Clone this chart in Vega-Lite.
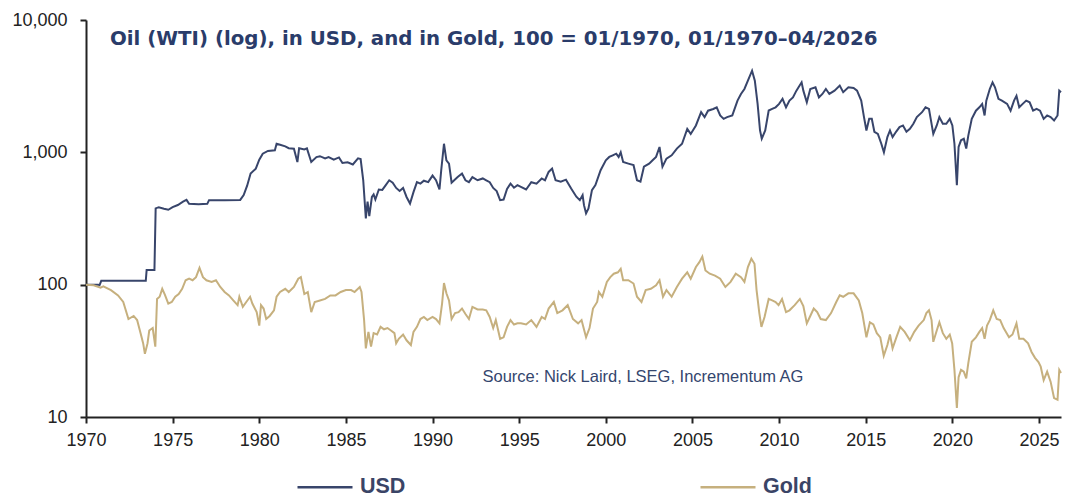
{
  "$schema": "https://vega.github.io/schema/vega-lite/v6.json",
  "width": 975,
  "height": 397,
  "autosize": {"type": "none"},
  "padding": {"left": 86, "top": 20, "right": 29, "bottom": 86},
  "background": "white",
  "config": {"view": {"stroke": null}, "font": "Liberation Sans"},
  "title": {
    "text": "Oil (WTI) (log), in USD, and in Gold, 100 = 01/1970, 01/1970–04/2026",
    "anchor": "start",
    "frame": "group",
    "font": "DejaVu Sans",
    "fontSize": 19.8,
    "fontWeight": "bold",
    "color": "#2a3c6a",
    "baseline": "middle",
    "offset": 0,
    "dx": 24,
    "dy": 48
  },
  "layer": [
    {
      "data": {"values": [
        {"year":1970.0,"series":"USD","value":100},{"year":1970.7,"series":"USD","value":100},{"year":1970.78,"series":"USD","value":99},{"year":1970.88,"series":"USD","value":107},{"year":1973.45,"series":"USD","value":107},{"year":1973.5,"series":"USD","value":129},{"year":1973.95,"series":"USD","value":129},{"year":1974.02,"series":"USD","value":377},{"year":1974.2,"series":"USD","value":385},{"year":1974.5,"series":"USD","value":375},{"year":1974.75,"series":"USD","value":368},{"year":1975.0,"series":"USD","value":385},{"year":1975.3,"series":"USD","value":400},{"year":1975.6,"series":"USD","value":424},{"year":1975.8,"series":"USD","value":437},{"year":1975.95,"series":"USD","value":408},{"year":1976.5,"series":"USD","value":405},{"year":1977.0,"series":"USD","value":408},{"year":1977.1,"series":"USD","value":435},{"year":1978.0,"series":"USD","value":435},{"year":1978.9,"series":"USD","value":437},{"year":1979.1,"series":"USD","value":475},{"year":1979.3,"series":"USD","value":560},{"year":1979.5,"series":"USD","value":692},{"year":1979.8,"series":"USD","value":753},{"year":1980.0,"series":"USD","value":880},{"year":1980.2,"series":"USD","value":977},{"year":1980.5,"series":"USD","value":1024},{"year":1980.9,"series":"USD","value":1035},{"year":1981.0,"series":"USD","value":1161},{"year":1981.2,"series":"USD","value":1140},{"year":1981.5,"series":"USD","value":1110},{"year":1981.7,"series":"USD","value":1075},{"year":1982.0,"series":"USD","value":1065},{"year":1982.2,"series":"USD","value":845},{"year":1982.3,"series":"USD","value":1075},{"year":1982.6,"series":"USD","value":1050},{"year":1982.75,"series":"USD","value":1070},{"year":1983.0,"series":"USD","value":845},{"year":1983.3,"series":"USD","value":920},{"year":1983.5,"series":"USD","value":935},{"year":1983.8,"series":"USD","value":900},{"year":1984.0,"series":"USD","value":920},{"year":1984.3,"series":"USD","value":880},{"year":1984.6,"series":"USD","value":915},{"year":1984.8,"series":"USD","value":830},{"year":1985.1,"series":"USD","value":840},{"year":1985.4,"series":"USD","value":810},{"year":1985.7,"series":"USD","value":900},{"year":1985.85,"series":"USD","value":890},{"year":1986.0,"series":"USD","value":615},{"year":1986.15,"series":"USD","value":317},{"year":1986.25,"series":"USD","value":424},{"year":1986.35,"series":"USD","value":330},{"year":1986.5,"series":"USD","value":460},{"year":1986.6,"series":"USD","value":480},{"year":1986.7,"series":"USD","value":440},{"year":1986.9,"series":"USD","value":524},{"year":1987.1,"series":"USD","value":520},{"year":1987.3,"series":"USD","value":565},{"year":1987.5,"series":"USD","value":615},{"year":1987.7,"series":"USD","value":590},{"year":1987.9,"series":"USD","value":538},{"year":1988.1,"series":"USD","value":510},{"year":1988.3,"series":"USD","value":538},{"year":1988.5,"series":"USD","value":460},{"year":1988.7,"series":"USD","value":410},{"year":1988.9,"series":"USD","value":500},{"year":1989.1,"series":"USD","value":595},{"year":1989.3,"series":"USD","value":580},{"year":1989.5,"series":"USD","value":610},{"year":1989.75,"series":"USD","value":595},{"year":1990.0,"series":"USD","value":667},{"year":1990.2,"series":"USD","value":615},{"year":1990.4,"series":"USD","value":524},{"year":1990.5,"series":"USD","value":730},{"year":1990.66,"series":"USD","value":1161},{"year":1990.8,"series":"USD","value":870},{"year":1990.95,"series":"USD","value":822},{"year":1991.1,"series":"USD","value":590},{"year":1991.25,"series":"USD","value":615},{"year":1991.45,"series":"USD","value":650},{"year":1991.7,"series":"USD","value":692},{"year":1991.9,"series":"USD","value":615},{"year":1992.1,"series":"USD","value":595},{"year":1992.3,"series":"USD","value":650},{"year":1992.6,"series":"USD","value":615},{"year":1992.9,"series":"USD","value":635},{"year":1993.1,"series":"USD","value":615},{"year":1993.3,"series":"USD","value":595},{"year":1993.5,"series":"USD","value":538},{"year":1993.7,"series":"USD","value":510},{"year":1993.9,"series":"USD","value":435},{"year":1994.1,"series":"USD","value":440},{"year":1994.3,"series":"USD","value":530},{"year":1994.5,"series":"USD","value":580},{"year":1994.7,"series":"USD","value":540},{"year":1994.9,"series":"USD","value":565},{"year":1995.1,"series":"USD","value":548},{"year":1995.4,"series":"USD","value":524},{"year":1995.7,"series":"USD","value":595},{"year":1996.0,"series":"USD","value":580},{"year":1996.3,"series":"USD","value":635},{"year":1996.49,"series":"USD","value":615},{"year":1996.7,"series":"USD","value":711},{"year":1996.9,"series":"USD","value":753},{"year":1997.1,"series":"USD","value":615},{"year":1997.4,"series":"USD","value":600},{"year":1997.7,"series":"USD","value":622},{"year":1998.0,"series":"USD","value":533},{"year":1998.3,"series":"USD","value":462},{"year":1998.5,"series":"USD","value":435},{"year":1998.66,"series":"USD","value":475},{"year":1998.74,"series":"USD","value":399},{"year":1998.86,"series":"USD","value":346},{"year":1999.0,"series":"USD","value":377},{"year":1999.2,"series":"USD","value":518},{"year":1999.4,"series":"USD","value":565},{"year":1999.7,"series":"USD","value":733},{"year":2000.0,"series":"USD","value":871},{"year":2000.2,"series":"USD","value":923},{"year":2000.4,"series":"USD","value":949},{"year":2000.6,"series":"USD","value":977},{"year":2000.74,"series":"USD","value":923},{"year":2000.86,"series":"USD","value":1000},{"year":2001.0,"series":"USD","value":845},{"year":2001.3,"series":"USD","value":822},{"year":2001.6,"series":"USD","value":800},{"year":2001.8,"series":"USD","value":615},{"year":2002.0,"series":"USD","value":600},{"year":2002.2,"series":"USD","value":778},{"year":2002.5,"series":"USD","value":822},{"year":2002.7,"series":"USD","value":871},{"year":2002.9,"series":"USD","value":923},{"year":2003.1,"series":"USD","value":1097},{"year":2003.27,"series":"USD","value":778},{"year":2003.5,"series":"USD","value":896},{"year":2003.8,"series":"USD","value":949},{"year":2004.1,"series":"USD","value":1067},{"year":2004.4,"series":"USD","value":1161},{"year":2004.7,"series":"USD","value":1505},{"year":2004.9,"series":"USD","value":1378},{"year":2005.2,"series":"USD","value":1596},{"year":2005.5,"series":"USD","value":2010},{"year":2005.7,"series":"USD","value":1845},{"year":2005.9,"series":"USD","value":2064},{"year":2006.2,"series":"USD","value":2127},{"year":2006.4,"series":"USD","value":2189},{"year":2006.6,"series":"USD","value":1900},{"year":2006.8,"series":"USD","value":1790},{"year":2007.0,"series":"USD","value":1845},{"year":2007.3,"series":"USD","value":1900},{"year":2007.6,"series":"USD","value":2459},{"year":2007.8,"series":"USD","value":2761},{"year":2008.0,"series":"USD","value":3012},{"year":2008.2,"series":"USD","value":3479},{"year":2008.44,"series":"USD","value":4140},{"year":2008.6,"series":"USD","value":3479},{"year":2008.76,"series":"USD","value":2323},{"year":2008.9,"series":"USD","value":1463},{"year":2009.0,"series":"USD","value":1268},{"year":2009.2,"series":"USD","value":1463},{"year":2009.4,"series":"USD","value":2070},{"year":2009.6,"series":"USD","value":2127},{"year":2009.8,"series":"USD","value":2189},{"year":2010.0,"series":"USD","value":2323},{"year":2010.2,"series":"USD","value":2540},{"year":2010.4,"series":"USD","value":2189},{"year":2010.6,"series":"USD","value":2459},{"year":2010.8,"series":"USD","value":2600},{"year":2011.0,"series":"USD","value":2926},{"year":2011.3,"series":"USD","value":3380},{"year":2011.4,"series":"USD","value":2926},{"year":2011.6,"series":"USD","value":2390},{"year":2011.8,"series":"USD","value":3012},{"year":2012.1,"series":"USD","value":3100},{"year":2012.3,"series":"USD","value":2600},{"year":2012.5,"series":"USD","value":2761},{"year":2012.7,"series":"USD","value":3012},{"year":2012.9,"series":"USD","value":2761},{"year":2013.2,"series":"USD","value":2926},{"year":2013.5,"series":"USD","value":3193},{"year":2013.7,"series":"USD","value":2850},{"year":2014.0,"series":"USD","value":3100},{"year":2014.3,"series":"USD","value":3060},{"year":2014.5,"series":"USD","value":2926},{"year":2014.74,"series":"USD","value":2459},{"year":2014.9,"series":"USD","value":1845},{"year":2015.04,"series":"USD","value":1463},{"year":2015.2,"series":"USD","value":1790},{"year":2015.35,"series":"USD","value":1790},{"year":2015.5,"series":"USD","value":1430},{"year":2015.7,"series":"USD","value":1378},{"year":2015.9,"series":"USD","value":1161},{"year":2016.05,"series":"USD","value":1000},{"year":2016.25,"series":"USD","value":1303},{"year":2016.4,"series":"USD","value":1463},{"year":2016.55,"series":"USD","value":1303},{"year":2016.75,"series":"USD","value":1430},{"year":2016.95,"series":"USD","value":1550},{"year":2017.15,"series":"USD","value":1596},{"year":2017.35,"series":"USD","value":1430},{"year":2017.55,"series":"USD","value":1505},{"year":2017.75,"series":"USD","value":1645},{"year":2017.95,"series":"USD","value":1845},{"year":2018.25,"series":"USD","value":2010},{"year":2018.45,"series":"USD","value":2189},{"year":2018.65,"series":"USD","value":2127},{"year":2018.75,"series":"USD","value":1790},{"year":2018.9,"series":"USD","value":1378},{"year":2019.1,"series":"USD","value":1596},{"year":2019.25,"series":"USD","value":1845},{"year":2019.45,"series":"USD","value":1645},{"year":2019.65,"series":"USD","value":1645},{"year":2019.85,"series":"USD","value":1790},{"year":2020.0,"series":"USD","value":1596},{"year":2020.12,"series":"USD","value":1161},{"year":2020.26,"series":"USD","value":565},{"year":2020.36,"series":"USD","value":1097},{"year":2020.5,"series":"USD","value":1233},{"year":2020.66,"series":"USD","value":1268},{"year":2020.8,"series":"USD","value":1067},{"year":2020.92,"series":"USD","value":1339},{"year":2021.12,"series":"USD","value":1790},{"year":2021.36,"series":"USD","value":2064},{"year":2021.56,"series":"USD","value":2189},{"year":2021.72,"series":"USD","value":2323},{"year":2021.86,"series":"USD","value":1900},{"year":2021.96,"series":"USD","value":2459},{"year":2022.16,"series":"USD","value":3012},{"year":2022.32,"series":"USD","value":3380},{"year":2022.46,"series":"USD","value":3100},{"year":2022.66,"series":"USD","value":2540},{"year":2022.86,"series":"USD","value":2459},{"year":2023.16,"series":"USD","value":2323},{"year":2023.36,"series":"USD","value":2064},{"year":2023.56,"series":"USD","value":2459},{"year":2023.7,"series":"USD","value":2670},{"year":2023.86,"series":"USD","value":2189},{"year":2024.06,"series":"USD","value":2323},{"year":2024.26,"series":"USD","value":2459},{"year":2024.46,"series":"USD","value":2390},{"year":2024.66,"series":"USD","value":2064},{"year":2024.86,"series":"USD","value":2127},{"year":2025.06,"series":"USD","value":2064},{"year":2025.27,"series":"USD","value":1790},{"year":2025.47,"series":"USD","value":1900},{"year":2025.67,"series":"USD","value":1845},{"year":2025.87,"series":"USD","value":1740},{"year":2026.07,"series":"USD","value":1900},{"year":2026.17,"series":"USD","value":2926},{"year":2026.27,"series":"USD","value":2850},
        {"year":1970.0,"series":"Gold","value":100},{"year":1970.44,"series":"Gold","value":99},{"year":1970.84,"series":"Gold","value":95},{"year":1971.0,"series":"Gold","value":97},{"year":1971.44,"series":"Gold","value":91},{"year":1971.85,"series":"Gold","value":83},{"year":1972.15,"series":"Gold","value":74},{"year":1972.45,"series":"Gold","value":55},{"year":1972.75,"series":"Gold","value":58},{"year":1972.95,"series":"Gold","value":54},{"year":1973.15,"series":"Gold","value":43},{"year":1973.3,"series":"Gold","value":36},{"year":1973.4,"series":"Gold","value":30},{"year":1973.55,"series":"Gold","value":36},{"year":1973.65,"series":"Gold","value":45},{"year":1973.85,"series":"Gold","value":47},{"year":1974.0,"series":"Gold","value":34},{"year":1974.1,"series":"Gold","value":78},{"year":1974.25,"series":"Gold","value":81},{"year":1974.4,"series":"Gold","value":93},{"year":1974.55,"series":"Gold","value":84},{"year":1974.75,"series":"Gold","value":72},{"year":1974.95,"series":"Gold","value":74},{"year":1975.15,"series":"Gold","value":81},{"year":1975.35,"series":"Gold","value":85},{"year":1975.55,"series":"Gold","value":93},{"year":1975.75,"series":"Gold","value":108},{"year":1975.95,"series":"Gold","value":111},{"year":1976.15,"series":"Gold","value":108},{"year":1976.35,"series":"Gold","value":114},{"year":1976.55,"series":"Gold","value":134},{"year":1976.75,"series":"Gold","value":114},{"year":1976.95,"series":"Gold","value":108},{"year":1977.25,"series":"Gold","value":105},{"year":1977.5,"series":"Gold","value":108},{"year":1977.75,"series":"Gold","value":96},{"year":1978.0,"series":"Gold","value":88},{"year":1978.25,"series":"Gold","value":83},{"year":1978.5,"series":"Gold","value":76},{"year":1978.75,"series":"Gold","value":70},{"year":1978.85,"series":"Gold","value":81},{"year":1979.05,"series":"Gold","value":68},{"year":1979.25,"series":"Gold","value":74},{"year":1979.47,"series":"Gold","value":81},{"year":1979.6,"series":"Gold","value":72},{"year":1979.85,"series":"Gold","value":62},{"year":1980.0,"series":"Gold","value":49},{"year":1980.1,"series":"Gold","value":70},{"year":1980.25,"series":"Gold","value":66},{"year":1980.4,"series":"Gold","value":55},{"year":1980.6,"series":"Gold","value":58},{"year":1980.85,"series":"Gold","value":64},{"year":1981.0,"series":"Gold","value":81},{"year":1981.2,"series":"Gold","value":88},{"year":1981.5,"series":"Gold","value":93},{"year":1981.7,"series":"Gold","value":88},{"year":1982.0,"series":"Gold","value":96},{"year":1982.25,"series":"Gold","value":111},{"year":1982.4,"series":"Gold","value":114},{"year":1982.6,"series":"Gold","value":85},{"year":1982.8,"series":"Gold","value":88},{"year":1983.0,"series":"Gold","value":62},{"year":1983.2,"series":"Gold","value":74},{"year":1983.5,"series":"Gold","value":76},{"year":1983.8,"series":"Gold","value":78},{"year":1984.1,"series":"Gold","value":83},{"year":1984.4,"series":"Gold","value":83},{"year":1984.7,"series":"Gold","value":88},{"year":1985.0,"series":"Gold","value":91},{"year":1985.3,"series":"Gold","value":91},{"year":1985.5,"series":"Gold","value":88},{"year":1985.8,"series":"Gold","value":96},{"year":1985.9,"series":"Gold","value":88},{"year":1986.05,"series":"Gold","value":54},{"year":1986.15,"series":"Gold","value":33},{"year":1986.3,"series":"Gold","value":44},{"year":1986.45,"series":"Gold","value":34},{"year":1986.6,"series":"Gold","value":43},{"year":1986.8,"series":"Gold","value":42},{"year":1987.0,"series":"Gold","value":48},{"year":1987.2,"series":"Gold","value":46},{"year":1987.4,"series":"Gold","value":47},{"year":1987.6,"series":"Gold","value":45},{"year":1987.8,"series":"Gold","value":43},{"year":1987.9,"series":"Gold","value":36},{"year":1988.05,"series":"Gold","value":39},{"year":1988.3,"series":"Gold","value":42},{"year":1988.5,"series":"Gold","value":38},{"year":1988.75,"series":"Gold","value":35},{"year":1988.9,"series":"Gold","value":44},{"year":1989.1,"series":"Gold","value":48},{"year":1989.3,"series":"Gold","value":55},{"year":1989.5,"series":"Gold","value":57},{"year":1989.7,"series":"Gold","value":54},{"year":1990.0,"series":"Gold","value":57},{"year":1990.2,"series":"Gold","value":55},{"year":1990.4,"series":"Gold","value":51},{"year":1990.55,"series":"Gold","value":72},{"year":1990.66,"series":"Gold","value":103},{"year":1990.8,"series":"Gold","value":86},{"year":1990.95,"series":"Gold","value":76},{"year":1991.1,"series":"Gold","value":55},{"year":1991.3,"series":"Gold","value":61},{"year":1991.5,"series":"Gold","value":62},{"year":1991.7,"series":"Gold","value":66},{"year":1991.9,"series":"Gold","value":60},{"year":1992.1,"series":"Gold","value":55},{"year":1992.3,"series":"Gold","value":68},{"year":1992.6,"series":"Gold","value":65},{"year":1992.9,"series":"Gold","value":65},{"year":1993.1,"series":"Gold","value":64},{"year":1993.3,"series":"Gold","value":57},{"year":1993.5,"series":"Gold","value":47},{"year":1993.65,"series":"Gold","value":54},{"year":1993.9,"series":"Gold","value":39},{"year":1994.1,"series":"Gold","value":40},{"year":1994.3,"series":"Gold","value":48},{"year":1994.5,"series":"Gold","value":54},{"year":1994.7,"series":"Gold","value":50},{"year":1994.9,"series":"Gold","value":51},{"year":1995.1,"series":"Gold","value":51},{"year":1995.4,"series":"Gold","value":50},{"year":1995.7,"series":"Gold","value":54},{"year":1996.0,"series":"Gold","value":48},{"year":1996.3,"series":"Gold","value":57},{"year":1996.49,"series":"Gold","value":55},{"year":1996.7,"series":"Gold","value":66},{"year":1997.0,"series":"Gold","value":74},{"year":1997.2,"series":"Gold","value":61},{"year":1997.5,"series":"Gold","value":64},{"year":1997.8,"series":"Gold","value":70},{"year":1998.1,"series":"Gold","value":55},{"year":1998.4,"series":"Gold","value":51},{"year":1998.6,"series":"Gold","value":54},{"year":1998.7,"series":"Gold","value":48},{"year":1998.86,"series":"Gold","value":40},{"year":1999.06,"series":"Gold","value":47},{"year":1999.26,"series":"Gold","value":66},{"year":1999.5,"series":"Gold","value":74},{"year":1999.6,"series":"Gold","value":88},{"year":1999.8,"series":"Gold","value":81},{"year":2000.06,"series":"Gold","value":105},{"year":2000.26,"series":"Gold","value":114},{"year":2000.46,"series":"Gold","value":121},{"year":2000.7,"series":"Gold","value":124},{"year":2000.86,"series":"Gold","value":132},{"year":2001.0,"series":"Gold","value":108},{"year":2001.3,"series":"Gold","value":108},{"year":2001.6,"series":"Gold","value":102},{"year":2001.8,"series":"Gold","value":81},{"year":2002.06,"series":"Gold","value":74},{"year":2002.3,"series":"Gold","value":91},{"year":2002.6,"series":"Gold","value":93},{"year":2002.9,"series":"Gold","value":99},{"year":2003.1,"series":"Gold","value":108},{"year":2003.3,"series":"Gold","value":81},{"year":2003.5,"series":"Gold","value":91},{"year":2003.8,"series":"Gold","value":81},{"year":2004.1,"series":"Gold","value":96},{"year":2004.4,"series":"Gold","value":111},{"year":2004.7,"series":"Gold","value":124},{"year":2004.9,"series":"Gold","value":111},{"year":2005.2,"series":"Gold","value":136},{"year":2005.4,"series":"Gold","value":148},{"year":2005.57,"series":"Gold","value":163},{"year":2005.75,"series":"Gold","value":128},{"year":2006.0,"series":"Gold","value":121},{"year":2006.3,"series":"Gold","value":117},{"year":2006.6,"series":"Gold","value":111},{"year":2006.9,"series":"Gold","value":96},{"year":2007.2,"series":"Gold","value":105},{"year":2007.5,"series":"Gold","value":121},{"year":2007.8,"series":"Gold","value":114},{"year":2008.0,"series":"Gold","value":105},{"year":2008.2,"series":"Gold","value":136},{"year":2008.4,"series":"Gold","value":157},{"year":2008.58,"series":"Gold","value":144},{"year":2008.7,"series":"Gold","value":91},{"year":2008.86,"series":"Gold","value":61},{"year":2008.98,"series":"Gold","value":48},{"year":2009.16,"series":"Gold","value":57},{"year":2009.4,"series":"Gold","value":78},{"year":2009.6,"series":"Gold","value":76},{"year":2009.8,"series":"Gold","value":74},{"year":2009.97,"series":"Gold","value":70},{"year":2010.17,"series":"Gold","value":78},{"year":2010.4,"series":"Gold","value":62},{"year":2010.6,"series":"Gold","value":64},{"year":2010.9,"series":"Gold","value":70},{"year":2011.2,"series":"Gold","value":78},{"year":2011.4,"series":"Gold","value":69},{"year":2011.6,"series":"Gold","value":51},{"year":2011.8,"series":"Gold","value":58},{"year":2012.0,"series":"Gold","value":66},{"year":2012.2,"series":"Gold","value":62},{"year":2012.4,"series":"Gold","value":55},{"year":2012.7,"series":"Gold","value":54},{"year":2013.0,"series":"Gold","value":61},{"year":2013.3,"series":"Gold","value":74},{"year":2013.5,"series":"Gold","value":83},{"year":2013.7,"series":"Gold","value":81},{"year":2014.0,"series":"Gold","value":86},{"year":2014.3,"series":"Gold","value":86},{"year":2014.6,"series":"Gold","value":76},{"year":2014.8,"series":"Gold","value":61},{"year":2015.04,"series":"Gold","value":40},{"year":2015.24,"series":"Gold","value":52},{"year":2015.44,"series":"Gold","value":50},{"year":2015.64,"series":"Gold","value":43},{"year":2015.84,"series":"Gold","value":40},{"year":2016.04,"series":"Gold","value":29},{"year":2016.25,"series":"Gold","value":35},{"year":2016.4,"series":"Gold","value":42},{"year":2016.55,"series":"Gold","value":33},{"year":2016.77,"series":"Gold","value":40},{"year":2016.99,"series":"Gold","value":48},{"year":2017.25,"series":"Gold","value":44},{"year":2017.55,"series":"Gold","value":38},{"year":2017.8,"series":"Gold","value":44},{"year":2018.05,"series":"Gold","value":49},{"year":2018.35,"series":"Gold","value":54},{"year":2018.5,"series":"Gold","value":61},{"year":2018.65,"series":"Gold","value":64},{"year":2018.8,"series":"Gold","value":54},{"year":2018.9,"series":"Gold","value":37},{"year":2019.1,"series":"Gold","value":45},{"year":2019.25,"series":"Gold","value":52},{"year":2019.45,"series":"Gold","value":43},{"year":2019.65,"series":"Gold","value":39},{"year":2019.85,"series":"Gold","value":42},{"year":2019.99,"series":"Gold","value":36},{"year":2020.12,"series":"Gold","value":22.7},{"year":2020.26,"series":"Gold","value":11.7},{"year":2020.36,"series":"Gold","value":20},{"year":2020.5,"series":"Gold","value":22.7},{"year":2020.66,"series":"Gold","value":22},{"year":2020.8,"series":"Gold","value":19.6},{"year":2020.92,"series":"Gold","value":25.5},{"year":2021.12,"series":"Gold","value":37},{"year":2021.36,"series":"Gold","value":40},{"year":2021.56,"series":"Gold","value":44},{"year":2021.72,"series":"Gold","value":47},{"year":2021.86,"series":"Gold","value":39},{"year":2022.0,"series":"Gold","value":49},{"year":2022.16,"series":"Gold","value":54},{"year":2022.36,"series":"Gold","value":64},{"year":2022.56,"series":"Gold","value":55},{"year":2022.76,"series":"Gold","value":54},{"year":2022.96,"series":"Gold","value":47},{"year":2023.27,"series":"Gold","value":40},{"year":2023.47,"series":"Gold","value":42},{"year":2023.7,"series":"Gold","value":51},{"year":2023.86,"series":"Gold","value":39},{"year":2024.1,"series":"Gold","value":39},{"year":2024.37,"series":"Gold","value":36},{"year":2024.57,"series":"Gold","value":31},{"year":2024.77,"series":"Gold","value":28},{"year":2024.97,"series":"Gold","value":26},{"year":2025.1,"series":"Gold","value":24},{"year":2025.27,"series":"Gold","value":19},{"year":2025.47,"series":"Gold","value":22},{"year":2025.67,"series":"Gold","value":18.5},{"year":2025.87,"series":"Gold","value":13.9},{"year":2026.07,"series":"Gold","value":13.5},{"year":2026.17,"series":"Gold","value":22.7},{"year":2026.27,"series":"Gold","value":21.5}
      ]},
      "mark": {"type": "line", "strokeWidth": 2},
      "encoding": {
        "x": {
          "field": "year", "type": "quantitative",
          "scale": {"domain": [1970, 2026.27], "nice": false, "zero": false},
          "axis": {"title": null, "grid": false, "values": [1970,1975,1980,1985,1990,1995,2000,2005,2010,2015,2020,2025], "format": "d", "labelFont": "Liberation Sans", "labelFontSize": 18, "labelColor": "#222222", "labelPadding": 8, "tickSize": 6, "tickWidth": 2, "tickColor": "#222222", "domainColor": "#222222", "domainWidth": 2, "labelFlush": false}
        },
        "y": {
          "field": "value", "type": "quantitative",
          "scale": {"type": "log", "domain": [10, 10000], "nice": false},
          "axis": {"title": null, "grid": false, "values": [10,100,1000,10000], "format": ",d", "labelFont": "Liberation Sans", "labelFontSize": 18, "labelColor": "#222222", "labelPadding": 13, "tickSize": 6, "tickWidth": 2, "tickColor": "#222222", "domainColor": "#222222", "domainWidth": 2}
        },
        "color": {
          "field": "series", "type": "nominal",
          "scale": {"domain": ["USD", "Gold"], "range": ["#38456b", "#c6b07e"]},
          "legend": {"title": null, "orient": "none", "legendX": 210, "legendY": 438, "direction": "horizontal", "symbolType": "stroke", "symbolSize": 3025, "symbolStrokeWidth": 2.5, "labelFont": "Liberation Sans", "labelFontSize": 21.5, "labelFontWeight": "bold", "labelColor": "#3a4466", "labelOffset": 6, "columnPadding": 289}
        }
      }
    },
    {
      "data": {"values": [{}]},
      "mark": {"type": "text", "align": "left", "baseline": "middle", "font": "Liberation Sans", "fontSize": 16.5, "color": "#34466e"},
      "encoding": {
        "x": {"datum": 1992.88, "type": "quantitative"},
        "y": {"datum": 20.16, "type": "quantitative"},
        "text": {"value": "Source: Nick Laird, LSEG, Incrementum AG"}
      }
    }
  ]
}
